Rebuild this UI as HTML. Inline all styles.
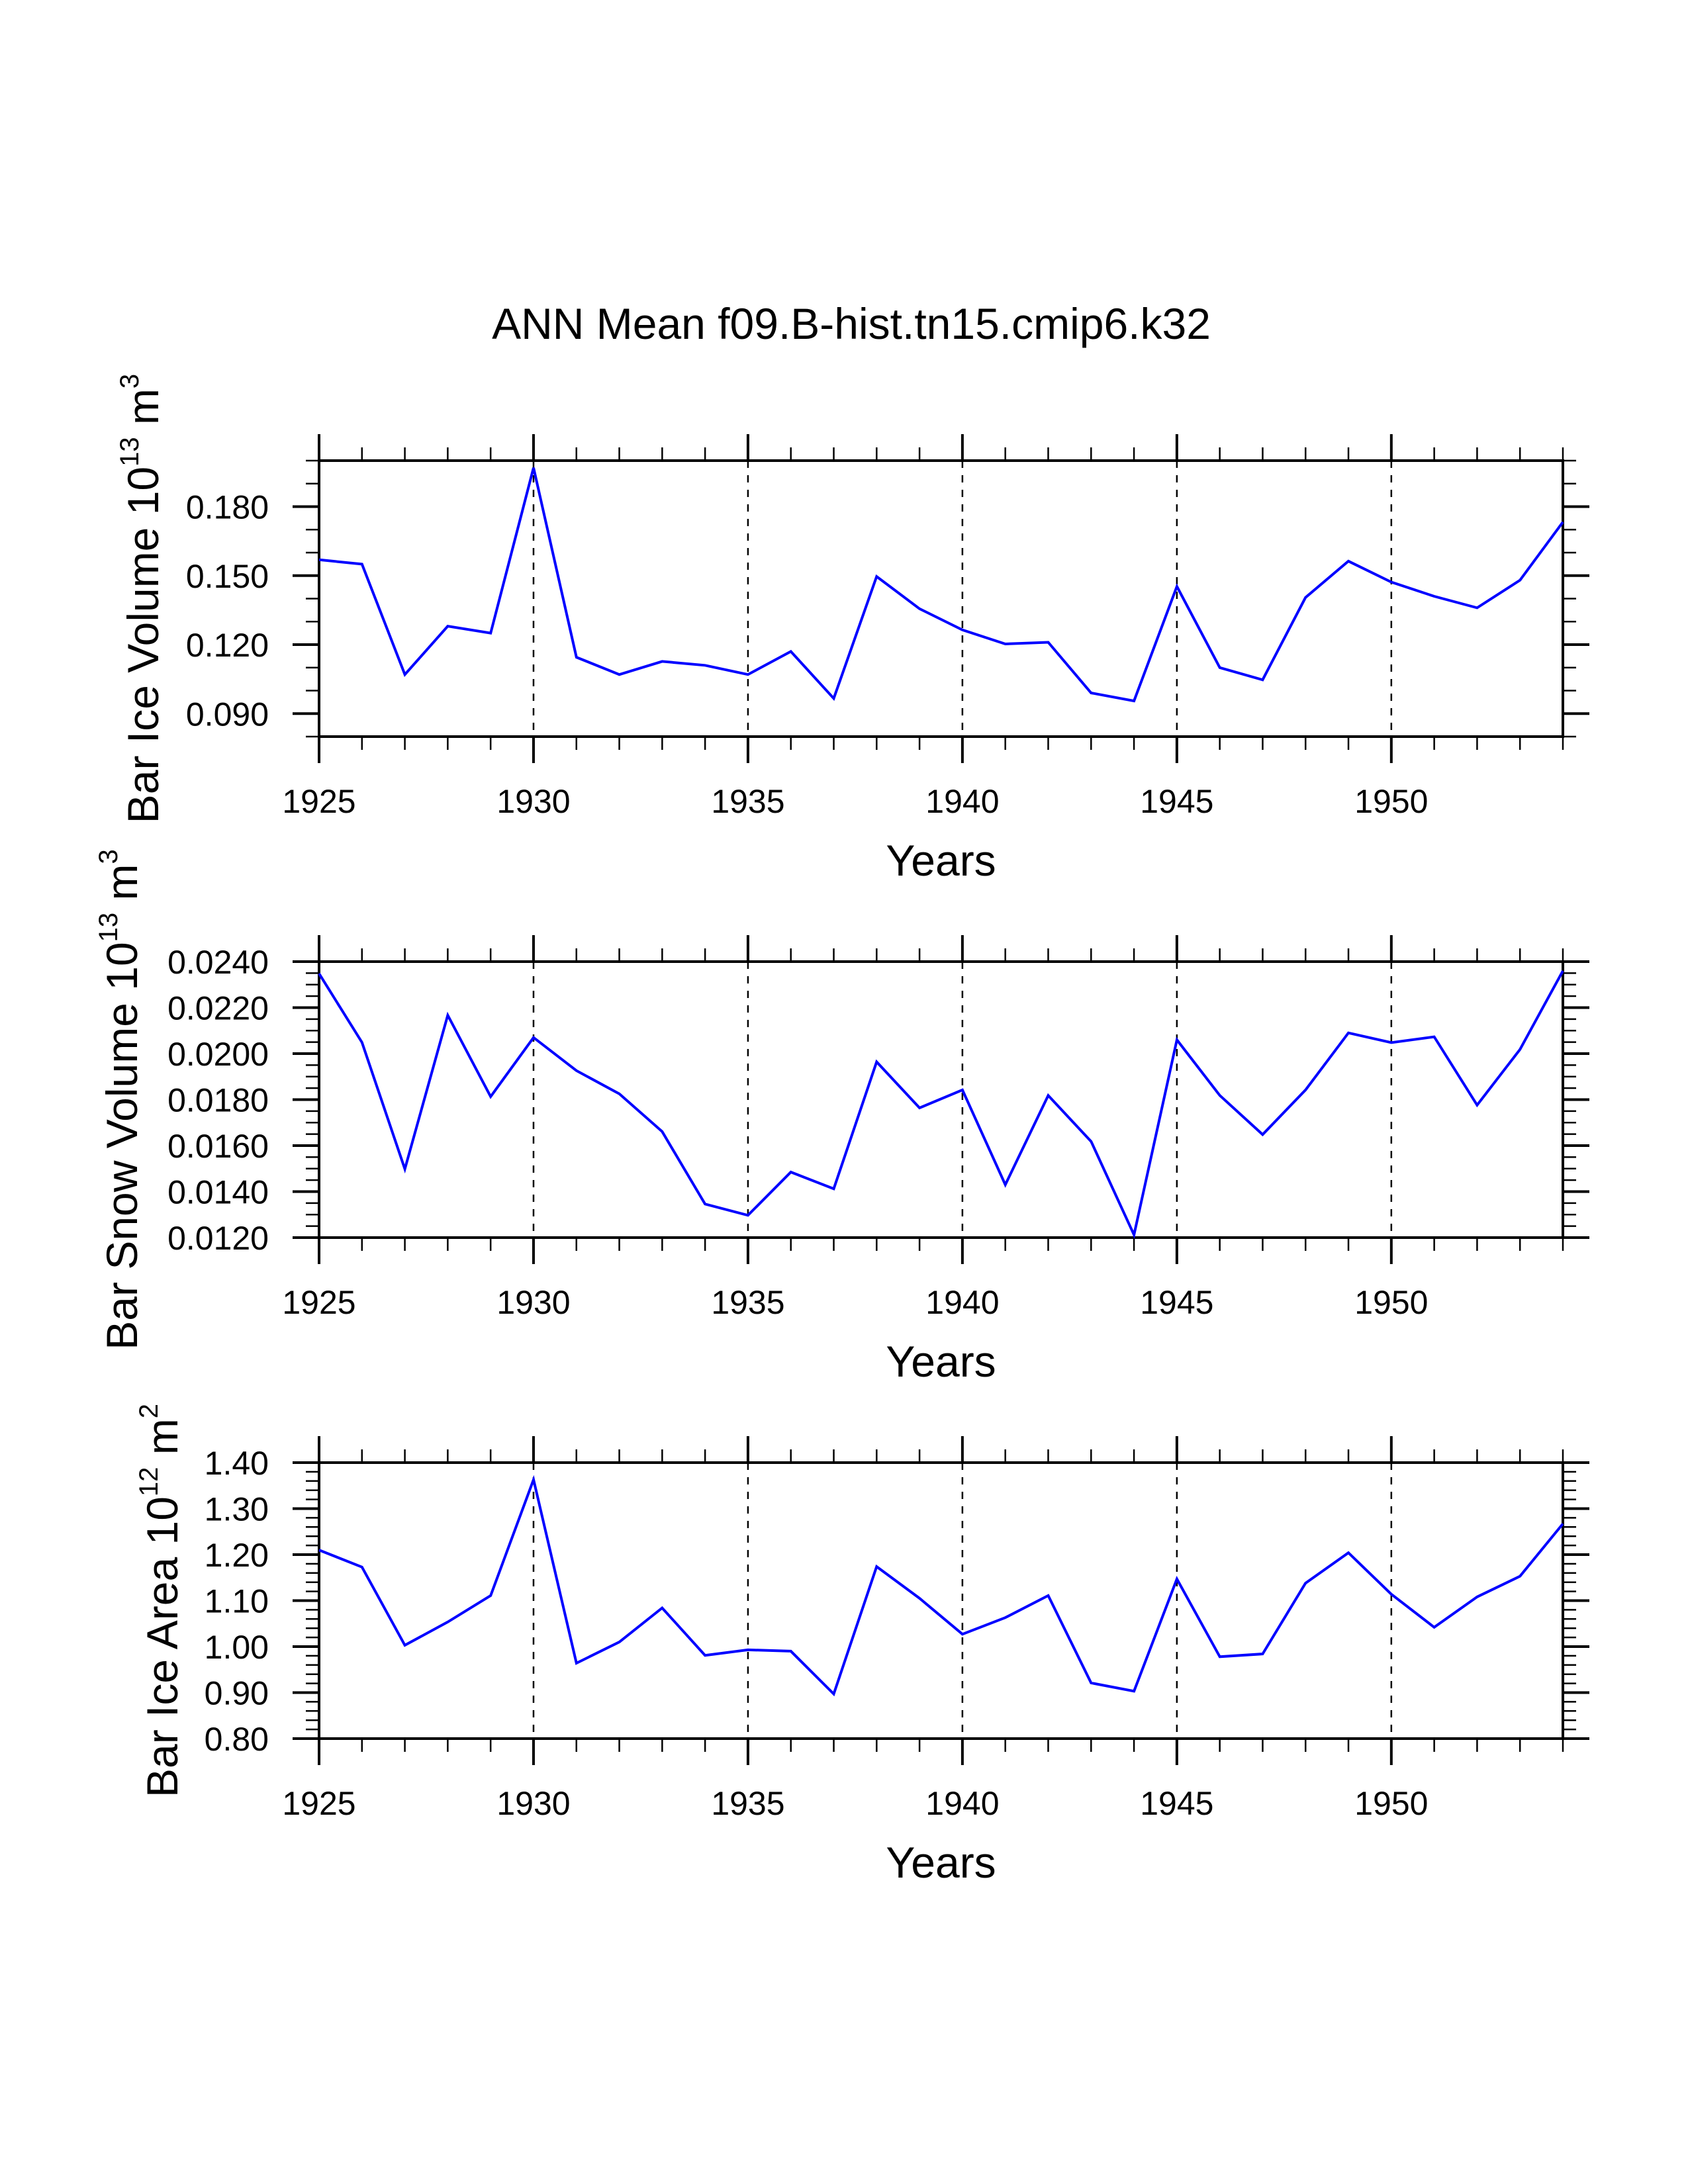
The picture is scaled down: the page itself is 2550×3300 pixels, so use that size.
<!DOCTYPE html>
<html><head><meta charset="utf-8"><style>
html,body{margin:0;padding:0;background:#fff;}
svg{display:block;font-family:"Liberation Sans",Arial,sans-serif;}
</style></head><body>
<svg id="chart" width="2550" height="3300" viewBox="0 0 2550 3300" xmlns="http://www.w3.org/2000/svg">
<rect width="2550" height="3300" fill="#fff"/>
<text x="1286" y="512" font-size="66" text-anchor="middle">ANN Mean f09.B-hist.tn15.cmip6.k32</text>
</svg>
<script>
const years = [1925,1926,1927,1928,1929,1930,1931,1932,1933,1934,1935,1936,1937,1938,1939,1940,1941,1942,1943,1944,1945,1946,1947,1948,1949,1950,1951,1952,1953,1954];
const iceVolume = [0.1569,0.155,0.107,0.128,0.125,0.1969,0.1145,0.107,0.1127,0.111,0.107,0.117,0.0966,0.1496,0.1356,0.1264,0.1203,0.121,0.099,0.0955,0.1453,0.110,0.1047,0.1405,0.1563,0.1472,0.141,0.136,0.148,0.1733];
const snowVolume = [0.02348,0.02049,0.01498,0.02167,0.01813,0.02070,0.01926,0.01825,0.01661,0.01346,0.01297,0.01485,0.01412,0.01964,0.01764,0.01842,0.0143,0.01818,0.01618,0.01212,0.0206,0.01818,0.01648,0.01842,0.0209,0.02048,0.02073,0.01776,0.02018,0.0236];
const iceArea = [1.210,1.173,1.003,1.0535,1.111,1.363,0.964,1.010,1.084,0.981,0.993,0.990,0.897,1.174,1.105,1.027,1.063,1.111,0.921,0.903,1.147,0.978,0.984,1.138,1.204,1.114,1.042,1.108,1.153,1.267];
const xTickLabels = ["1925","1930","1935","1940","1945","1950"];
const volTicks = ["0.090","0.120","0.150","0.180"];
const snowTicks = ["0.0120","0.0140","0.0160","0.0180","0.0200","0.0220","0.0240"];
const areaTicks = ["0.80","0.90","1.00","1.10","1.20","1.30","1.40"];

const NS = "http://www.w3.org/2000/svg";
const svg = document.getElementById("chart");
const X0 = 482, X1 = 2361;
const xMin = 1925, xMax = 1954;
function xs(v){ return X0 + (v - xMin) / (xMax - xMin) * (X1 - X0); }
function mk(tag, attrs, parent){
  const e = document.createElementNS(NS, tag);
  for (const k in attrs) e.setAttribute(k, attrs[k]);
  (parent || svg).appendChild(e);
  return e;
}
function line(g, x1, y1, x2, y2, w, extra){
  return mk("line", Object.assign({x1:x1,y1:y1,x2:x2,y2:y2,stroke:"#000","stroke-width":w}, extra||{}), g);
}

const panels = [
  {name:"ice-volume", top:696, data:iceVolume, min:0.08, max:0.20, ticks:volTicks, minorStep:0.01, titleX:239, label:"Bar Ice Volume 10", sup1:"13", unit:" m", sup2:"3"},
  {name:"snow-volume", top:1453, data:snowVolume, min:0.012, max:0.024, ticks:snowTicks, minorStep:0.0005, titleX:207, label:"Bar Snow Volume 10", sup1:"13", unit:" m", sup2:"3"},
  {name:"ice-area", top:2210, data:iceArea, min:0.8, max:1.4, ticks:areaTicks, minorStep:0.02, titleX:268, label:"Bar Ice Area 10", sup1:"12", unit:" m", sup2:"2"}
];
const H = 417;

panels.forEach(p => {
  const g = mk("g", {});
  
  
  const top = p.top, bot = p.top + H;
  const ys = v => bot - (v - p.min) / (p.max - p.min) * H;

  for (let yr = 1930; yr <= 1950; yr += 5) {
    const gl = line(g, xs(yr), top, xs(yr), bot, 2.5, {"stroke-dasharray":"11 11"});
    
    
  }
  for (let yr = 1925; yr <= 1954; yr++) {
    const major = (yr % 5 === 0);
    const len = major ? 40 : 20, w = major ? 4 : 2.5;
    line(g, xs(yr), top, xs(yr), top - len, w);
    line(g, xs(yr), bot, xs(yr), bot + len, w);
  }
  const nMinor = Math.round((p.max - p.min) / p.minorStep);
  const majorVals = p.ticks.map(Number);
  for (let i = 0; i <= nMinor; i++) {
    const v = p.min + i * p.minorStep;
    const isMajor = majorVals.some(m => Math.abs(m - v) < p.minorStep / 10);
    const len = isMajor ? 40 : 20, w = isMajor ? 4 : 2.5;
    line(g, X0, ys(v), X0 - len, ys(v), w);
    line(g, X1, ys(v), X1 + len, ys(v), w);
  }
  const fr = mk("rect", {x:X0, y:top, width:X1 - X0, height:H, fill:"none", stroke:"#000", "stroke-width":4}, g);
  
  
  const pts = years.map((yr, i) => xs(yr).toFixed(1) + "," + ys(p.data[i]).toFixed(1)).join(" ");
  const pl = mk("polyline", {points:pts, fill:"none", stroke:"#0000ff", "stroke-width":4, "stroke-linejoin":"miter"}, g);
  
  
  xTickLabels.forEach(t => {
    const tx = mk("text", {x:xs(Number(t)), y:bot + 115, "font-size":50, "text-anchor":"middle"}, g);
    tx.textContent = t;
    
    
  });
  p.ticks.forEach(t => {
    const ty = mk("text", {x:406, y:ys(Number(t)) + 18, "font-size":50, "text-anchor":"end"}, g);
    ty.textContent = t;
    
    
  });
  const xt = mk("text", {x:(X0 + X1) / 2, y:bot + 210, "font-size":66, "text-anchor":"middle"}, g);
  xt.textContent = "Years";
  
  
  const cy = (top + bot) / 2;
  const yt = mk("text", {x:0, y:0, "font-size":66, "text-anchor":"middle", transform:"translate(" + p.titleX + "," + cy + ") rotate(-90)"}, g);
  
  
  const s1 = mk("tspan", {}, yt); s1.textContent = p.label;
  const s2 = mk("tspan", {"font-size":40, dy:-30}, yt); s2.textContent = p.sup1;
  const s3 = mk("tspan", {dy:30}, yt); s3.textContent = p.unit;
  const s4 = mk("tspan", {"font-size":40, dy:-30}, yt); s4.textContent = p.sup2;
});
</script>
</body></html>
